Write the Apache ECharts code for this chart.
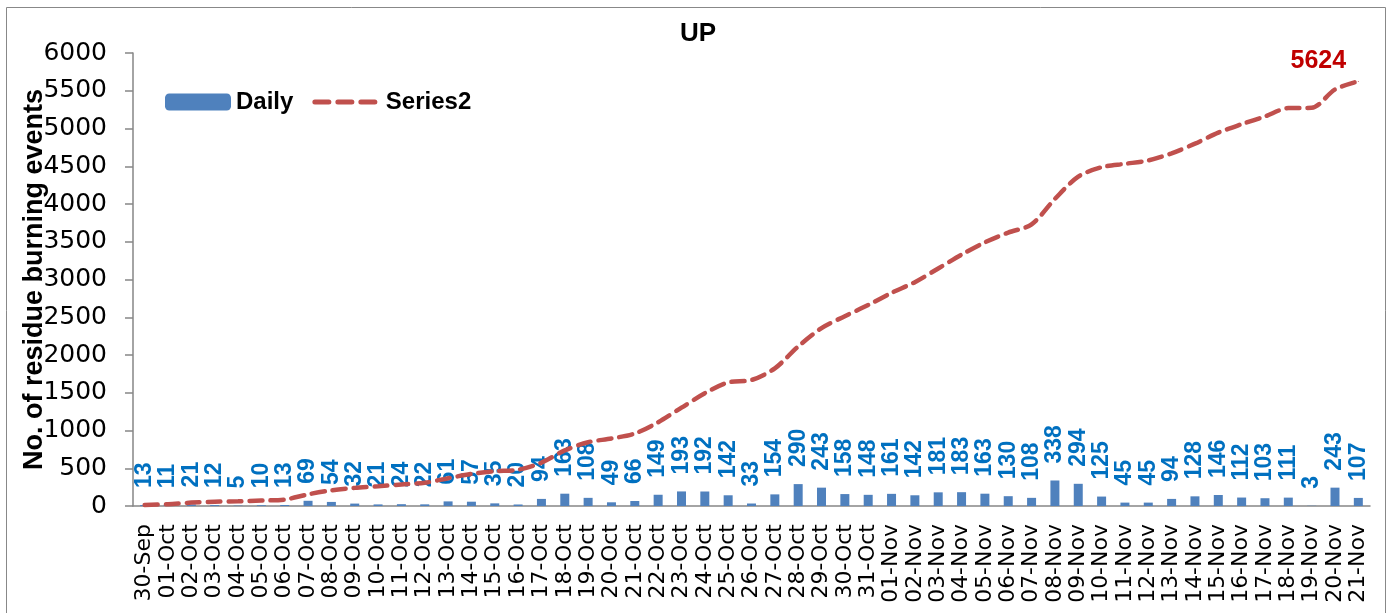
<!DOCTYPE html>
<html>
<head>
<meta charset="utf-8">
<script src="https://cdn.jsdelivr.net/npm/echarts@6/dist/echarts.min.js"></script>
<style>
  html, body { margin: 0; padding: 0; background: #fff; }
  #main { width: 1396px; height: 613px; }
</style>
</head>
<body>
<div id="main"></div>
<script>
// categories (dates)
var days = ['30-Sep',
  '01-Oct','02-Oct','03-Oct','04-Oct','05-Oct','06-Oct','07-Oct','08-Oct','09-Oct','10-Oct',
  '11-Oct','12-Oct','13-Oct','14-Oct','15-Oct','16-Oct','17-Oct','18-Oct','19-Oct','20-Oct',
  '21-Oct','22-Oct','23-Oct','24-Oct','25-Oct','26-Oct','27-Oct','28-Oct','29-Oct','30-Oct','31-Oct',
  '01-Nov','02-Nov','03-Nov','04-Nov','05-Nov','06-Nov','07-Nov','08-Nov','09-Nov','10-Nov',
  '11-Nov','12-Nov','13-Nov','14-Nov','15-Nov','16-Nov','17-Nov','18-Nov','19-Nov','20-Nov','21-Nov'];

// daily events (bar labels)
var daily = [13,
  11,21,12,5,10,13,69,54,32,21,
  24,22,61,57,35,20,94,163,108,49,
  66,149,193,192,142,33,154,290,243,158,148,
  161,142,181,183,163,130,108,338,294,125,
  45,45,94,128,146,112,103,111,3,243,107];

// running total (Series2)
var total = [13,
  24,45,57,62,72,85,154,208,240,261,
  285,307,368,425,460,480,574,737,845,894,
  960,1109,1302,1494,1636,1669,1823,2113,2356,2514,2662,
  2823,2965,3146,3329,3492,3622,3730,4068,4362,4487,
  4532,4577,4671,4799,4945,5057,5160,5271,5274,5517,5624];

var yTicks = [0,500,1000,1500,2000,2500,3000,3500,4000,4500,5000,5500,6000];

var myChart = echarts.init(document.getElementById('main'));

// only the last point of Series2 gets a label (tiny symbol so the label shows)
var totalData = [];
for (var i = 0; i < total.length; i++) {
  if (i == total.length - 1) {
    totalData.push({
      value: total[i],
      symbol: 'circle', symbolSize: 1,
      label: {
        show: true, position: 'top', offset: [-40, -2],
        color: '#C00000', fontFamily: 'Liberation Sans', fontWeight: 'bold', fontSize: 25,
        formatter: '{c}'
      }
    });
  } else {
    totalData.push(total[i]);
  }
}

myChart.setOption({
  backgroundColor: '#ffffff',
  animation: false,
  title: {
    text: 'UP', left: 'center', top: 16,
    textStyle: { fontFamily: 'Liberation Sans', fontWeight: 'bold', fontSize: 26, color: '#000' }
  },
  graphic: [{
    type: 'rect', shape: { x: 6.5, y: 7.5, width: 1379, height: 620 },
    style: { fill: 'none', stroke: '#888', lineWidth: 1 }, silent: true
  }],
  legend: {
    left: 160, top: 85, itemWidth: 66, itemHeight: 17, itemGap: 19,
    textStyle: { fontFamily: 'Liberation Sans', fontWeight: 'bold', fontSize: 24, color: '#000' },
    data: [
      'Daily',
      { name: 'Series2', itemStyle: { opacity: 0 },
        lineStyle: { width: 5, type: [14, 9], cap: 'round', color: '#C0504D' } }
    ]
  },
  grid: { left: 133, right: 26, top: 53, bottom: 107 },
  xAxis: {
    type: 'category', data: days,
    axisLine: { lineStyle: { color: '#868686', width: 1.5 } },
    axisTick: { length: 8, lineStyle: { color: '#868686', width: 1.5 } },
    axisLabel: {
      interval: 0, rotate: 90, margin: 18, color: '#000',
      fontFamily: 'DejaVu Sans', fontSize: 22
    }
  },
  yAxis: {
    type: 'value', min: 0, max: 6000, interval: 500,
    name: 'No. of residue burning events', nameLocation: 'middle', nameGap: 85,
    nameMoveOverlap: false,
    nameTextStyle: { fontFamily: 'Liberation Sans', fontWeight: 'bold', fontSize: 27, color: '#000' },
    splitLine: { show: false },
    axisLine: { show: true, lineStyle: { color: '#868686', width: 1.5 } },
    axisTick: { show: true, length: 8, lineStyle: { color: '#868686', width: 1.5 } },
    axisLabel: {
      margin: 26, color: '#000', fontFamily: 'DejaVu Sans', fontSize: 25,
      formatter: function (v) { return yTicks.indexOf(v) >= 0 ? String(v) : ''; }
    }
  },
  series: [
    {
      name: 'Daily', type: 'bar', data: daily, barWidth: 9,
      itemStyle: { color: '#4F81BD' },
      label: {
        show: true, position: 'top', rotate: 90, align: 'left', verticalAlign: 'middle',
        distance: 17, color: '#0070C0', fontFamily: 'Liberation Sans', fontWeight: 'bold', fontSize: 23
      }
    },
    {
      name: 'Series2', type: 'line', data: totalData, smooth: 0.3,
      symbol: 'none', showSymbol: true,
      lineStyle: { color: '#C0504D', width: 4.5, type: [13, 8], cap: 'round' },
      itemStyle: { color: '#C0504D' }
    }
  ]
});
</script>
</body>
</html>
